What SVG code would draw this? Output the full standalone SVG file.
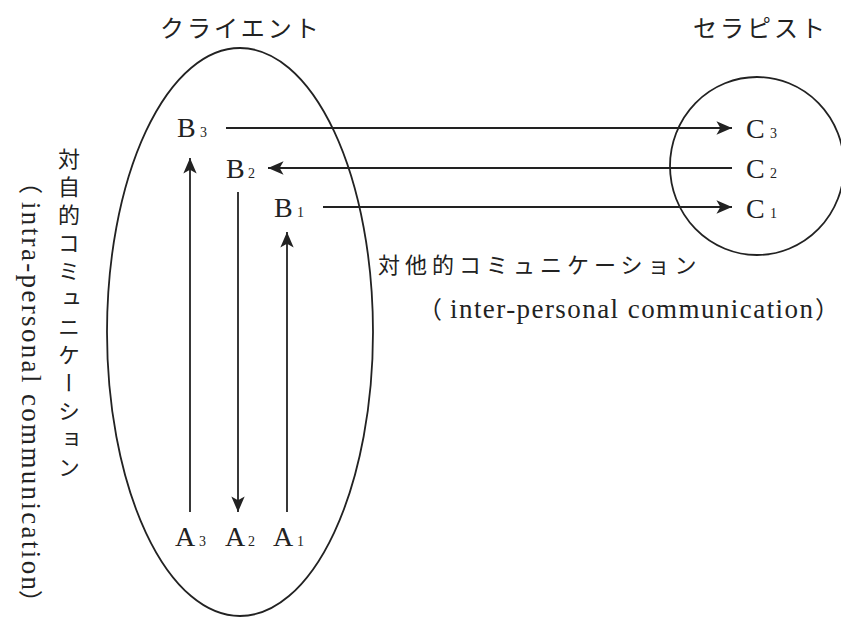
<svg xmlns="http://www.w3.org/2000/svg" width="841" height="617" viewBox="0 0 841 617">
<style>
.lat{font-family:"Liberation Serif","Times New Roman",serif;fill:#222}
.big{font-size:28px}
.sub{font-size:14px}
.jp{font-family:"Noto Sans CJK JP","Noto Sans CJK SC",sans-serif;fill:#222}
.ln{stroke:#222;stroke-width:1.8;fill:none}
.shape{stroke:#222;stroke-width:1.8;fill:none}
</style>
<defs>
<marker id="ah" markerUnits="userSpaceOnUse" markerWidth="20" markerHeight="20" viewBox="-16 -8 18 16" refX="0" refY="0" orient="auto">
<path d="M0,0 L-14,-6 L-10.5,0 L-14,6 Z" fill="#222"/>
</marker>
</defs>
<rect width="841" height="617" fill="#fff"/>
<g id="client">
<ellipse class="shape" cx="240" cy="332" rx="133" ry="284"/>
<text class="jp" x="160" y="37" font-size="24" letter-spacing="3">クライエント</text>
</g>
<g id="therapist">
<ellipse class="shape" cx="757" cy="166" rx="87" ry="89"/>
<text class="jp" x="693" y="37" font-size="24" letter-spacing="3">セラピスト</text>
</g>
<g id="B3"><text class="lat" x="177" y="137"><tspan class="big">B</tspan><tspan class="sub" x="200">3</tspan></text></g>
<g id="B2"><text class="lat" x="226" y="178"><tspan class="big">B</tspan><tspan class="sub" x="248">2</tspan></text></g>
<g id="B1"><text class="lat" x="274" y="217"><tspan class="big">B</tspan><tspan class="sub" x="297">1</tspan></text></g>
<g id="C3"><text class="lat" x="746" y="138"><tspan class="big">C</tspan><tspan class="sub" x="770">3</tspan></text></g>
<g id="C2"><text class="lat" x="746" y="178"><tspan class="big">C</tspan><tspan class="sub" x="770">2</tspan></text></g>
<g id="C1"><text class="lat" x="746" y="218"><tspan class="big">C</tspan><tspan class="sub" x="770">1</tspan></text></g>
<g id="A3"><text class="lat" x="175" y="546"><tspan class="big">A</tspan><tspan class="sub" x="199">3</tspan></text></g>
<g id="A2"><text class="lat" x="225" y="546"><tspan class="big">A</tspan><tspan class="sub" x="248">2</tspan></text></g>
<g id="A1"><text class="lat" x="273" y="546"><tspan class="big">A</tspan><tspan class="sub" x="297">1</tspan></text></g>
<g id="connectors">
<line class="ln" x1="226" y1="128" x2="732" y2="128" marker-end="url(#ah)"/>
<line class="ln" x1="732" y1="168" x2="268" y2="168" marker-end="url(#ah)"/>
<line class="ln" x1="323" y1="207" x2="732" y2="207" marker-end="url(#ah)"/>
<line class="ln" x1="190" y1="512" x2="190" y2="158" marker-end="url(#ah)"/>
<line class="ln" x1="238" y1="192" x2="238" y2="512" marker-end="url(#ah)"/>
<line class="ln" x1="287" y1="512" x2="287" y2="232" marker-end="url(#ah)"/>
</g>
<g id="inter-label">
<text class="jp" x="378" y="273" font-size="22" letter-spacing="5">対他的コミュニケーション</text>
<text class="jp" x="418" y="318" font-size="24">（</text>
<text class="lat" x="450" y="318" font-size="27" textLength="363" lengthAdjust="spacing">inter-personal communication</text>
<text class="jp" x="815" y="318" font-size="24">）</text>
</g>
<g id="intra-label">
<text class="jp" x="69" y="148" font-size="22" letter-spacing="6" style="writing-mode:vertical-rl">対自的コミュニケーション</text>
<g transform="translate(22,0) rotate(90)">
<text class="jp" x="170" y="0" font-size="24">（</text>
<text class="lat" x="202" y="0" font-size="27" textLength="388" lengthAdjust="spacing">intra-personal communication</text>
<text class="jp" x="590" y="0" font-size="24">）</text>
</g>
</g>
</svg>
